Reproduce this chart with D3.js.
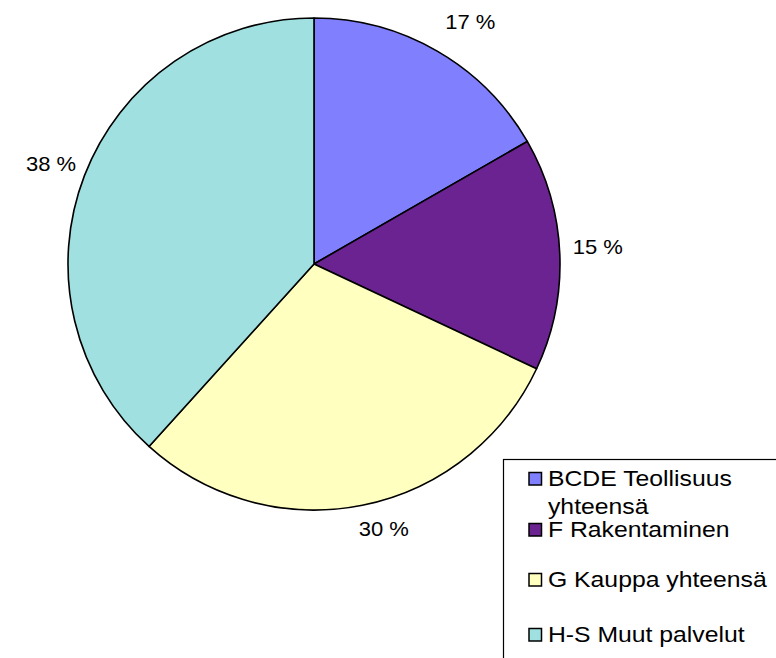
<!DOCTYPE html>
<html>
<head>
<meta charset="utf-8">
<script src="https://cdn.jsdelivr.net/npm/d3@7"></script>
<style>
  html, body { margin: 0; padding: 0; background: #fff; }
  svg { display: block; }
  text { font-family: "Liberation Sans", Arial, sans-serif; fill: #000; }
</style>
</head>
<body>
<svg id="chart" width="776" height="658"></svg>
<script>
const categories = ["BCDE Teollisuus yhteensä", "F Rakentaminen", "G Kauppa yhteensä", "H-S Muut palvelut"];
const legendLines = [["BCDE Teollisuus", "yhteensä"], ["F Rakentaminen"], ["G Kauppa yhteensä"], ["H-S Muut palvelut"]];
const values = [16.7, 15.3, 29.7, 38.3];
const labels = ["17 %", "15 %", "30 %", "38 %"];
const colors = ["#8080FF", "#6B2391", "#FFFFC0", "#A0E0E0"];

const svg = d3.select("#chart");
const cx = 314, cy = 264, R = 246, labelR = 284;
const sx = 1.1;
// layout nudges for the outside labels (pixels)
const nudge = [[14, 4], [0, -6], [14, -14], [2, 2]];

const pie = d3.pie().sort(null).value(d => d)(values);
const arc = d3.arc().innerRadius(0).outerRadius(R);

const g = svg.append("g").attr("transform", `translate(${cx},${cy})`);
g.selectAll("path.slice").data(pie).join("path")
  .attr("class", "slice")
  .attr("d", arc)
  .attr("fill", (d, i) => colors[i])
  .attr("stroke", "#000")
  .attr("stroke-width", 1.6)
  .attr("stroke-linejoin", "round");

g.selectAll("g.lbl").data(pie).join("g")
  .attr("class", "lbl")
  .attr("transform", (d, i) => {
    const a = (d.startAngle + d.endAngle) / 2;
    const x = labelR * Math.sin(a) + nudge[i][0], y = -labelR * Math.cos(a) + nudge[i][1];
    return `translate(${x},${y}) scale(${sx},1)`;
  })
  .append("text")
  .attr("text-anchor", "middle")
  .attr("dy", "0.36em")
  .style("font-size", "20px")
  .text((d, i) => labels[i]);

// Legend
const lg = svg.append("g");
lg.append("rect")
  .attr("x", 503.5).attr("y", 459.5)
  .attr("width", 300).attr("height", 220)
  .attr("fill", "#fff").attr("stroke", "#000").attr("stroke-width", 1.2);

const rowY = [486, 537, 587, 642];
const items = lg.selectAll("g.item").data(categories).join("g")
  .attr("class", "item");
items.append("rect")
  .attr("x", 529).attr("y", (d, i) => rowY[i] - 13.5)
  .attr("width", 12.5).attr("height", 12.5)
  .attr("fill", (d, i) => colors[i])
  .attr("stroke", "#000").attr("stroke-width", 1.5);
items.each(function(d, i) {
  const sel = d3.select(this);
  legendLines[i].forEach((line, j) => {
    sel.append("g")
      .attr("transform", `translate(548,${rowY[i] + j * 27.5}) scale(${sx},1)`)
      .append("text")
      .style("font-size", "22.5px")
      .text(line);
  });
});
</script>
</body>
</html>
